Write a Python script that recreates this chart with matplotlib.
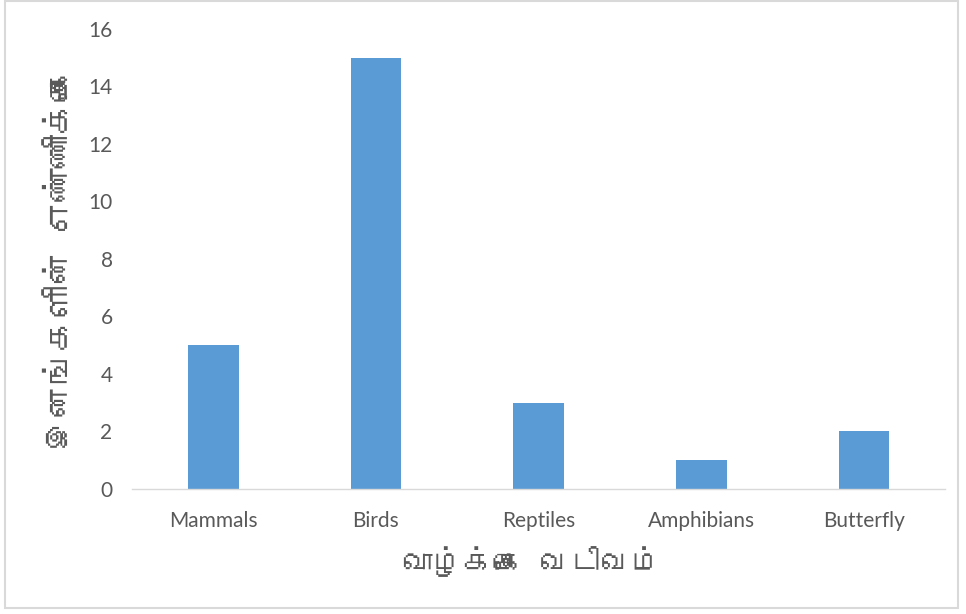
import matplotlib
matplotlib.use("Agg")
import matplotlib.pyplot as plt
from matplotlib import font_manager
from matplotlib.ft2font import FT2Font
from matplotlib.patches import Rectangle

# data
categories = ["Mammals", "Birds", "Reptiles", "Amphibians", "Butterfly"]
counts = [5, 15, 3, 1, 2]
y_ticks = [0, 2, 4, 6, 8, 10, 12, 14, 16]
x_title = "வாழ்க்கை வடிவம்"
y_title = "இனங்களின் எண்ணிக்கை"


def find_tamil_font():
    # look for any installed font that has Tamil glyphs
    for f in font_manager.fontManager.ttflist:
        try:
            cmap = FT2Font(f.fname).get_charmap()
        except Exception:
            continue
        if 0x0B87 in cmap and 0x0BA4 in cmap:
            return f.name
    return None


tamil = find_tamil_font()
tamil_family = [tamil, "DejaVu Sans"] if tamil else ["DejaVu Sans"]

bar_color = "#5b9bd5"
text_color = "#595959"

fig = plt.figure(figsize=(9.66, 6.14), dpi=100)
ax = fig.add_axes([0.1366, 0.2036, 0.842, 0.7492])

ax.bar(range(len(categories)), counts, width=0.31, color=bar_color)
ax.set_xlim(-0.5, len(categories) - 0.5)
ax.set_ylim(0, 16)
ax.set_yticks(y_ticks)
ax.set_xticks(range(len(categories)))
ax.set_xticklabels(categories)

for s in ["top", "right", "left"]:
    ax.spines[s].set_visible(False)
ax.spines["bottom"].set_color("#d9d9d9")
ax.spines["bottom"].set_linewidth(1)
ax.tick_params(length=0, labelsize=15, labelcolor=text_color)
ax.tick_params(axis="x", pad=16)
ax.tick_params(axis="y", pad=14)
for lbl in ax.get_xticklabels() + ax.get_yticklabels():
    lbl.set_family(["Lato", "DejaVu Sans"])

ax.set_xlabel(x_title, fontsize=22, color=text_color, family=tamil_family)
ax.set_ylabel(y_title, fontsize=24, color=text_color, family=tamil_family)
ax.xaxis.set_label_coords(0.491, -0.125)
ax.yaxis.set_label_coords(-0.069, 0.5)

# light grey frame around the whole chart
fig.patches.append(Rectangle((5 / 966, 6 / 614), 953 / 966, 607 / 614,
                             transform=fig.transFigure, fill=False,
                             edgecolor="#d9d9d9", linewidth=1.5))

fig.savefig("out.png", dpi=100)
